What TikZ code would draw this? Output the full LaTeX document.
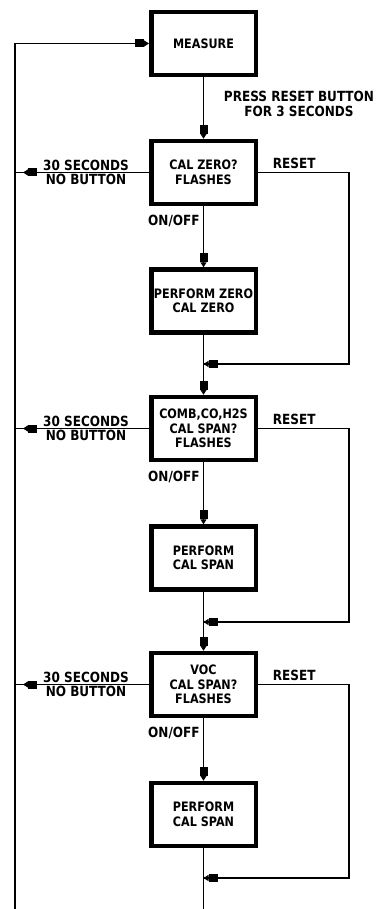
\documentclass[tikz,border=0pt]{standalone}
\usepackage{fontspec}
\setmainfont{DejaVu Sans}[FakeStretch=0.86]
\usetikzlibrary{arrows.meta}
\tikzset{
  stepbox/.style={draw, line width=4.5pt, minimum width=104.5pt, minimum height=63pt, inner sep=0pt, align=center},
  lbl/.style={align=center, inner sep=0pt, font=\fontsize{14}{14.5}\selectfont\bfseries},
  flow/.style={-{Rectangle[length=9pt,width=8pt] Triangle[length=5pt,width=6pt]}}
}
\begin{document}
\begin{tikzpicture}[x=1pt, y=-1pt, line width=1.8pt, font=\fontsize{13}{14.5}\selectfont\bfseries]
        \useasboundingbox (0,0) rectangle (380,909);
        \path (203.5,43.5) node[stepbox] (meas) {MEASURE}
              (203.5,172.5) node[stepbox] (cz) {CAL ZERO?\\FLASHES}
              (203.5,301) node[stepbox] (pz) {PERFORM ZERO\\CAL ZERO}
              (203.5,428.5) node[stepbox] (cs1) {COMB,CO,H2S\\CAL SPAN?\\FLASHES}
              (203.5,558) node[stepbox] (ps1) {PERFORM\\CAL SPAN}
              (203.5,684.5) node[stepbox] (cs2) {VOC\\CAL SPAN?\\FLASHES}
              (203.5,814.5) node[stepbox] (ps2) {PERFORM\\CAL SPAN};
        \coordinate (rt) at (15,43.5);
        \coordinate (rb) at (15,909);
        \coordinate (r1) at (349,364);
        \coordinate (r2) at (349,622);
        \coordinate (r3) at (349,878);
        \draw (rb) -- (rt);
        \draw[flow] (rt) -- (meas.west);
        \draw[flow] (meas.south) -- (cz.north);
        \node[lbl] (press) at (299,104) {PRESS RESET BUTTON\\FOR 3 SECONDS};
        \draw[flow] (cz.south) -- (pz.north);
        \draw[flow] (pz.south) -- (cs1.north);
        \draw[flow] (cs1.south) -- (ps1.north);
        \draw[flow] (ps1.south) -- (cs2.north);
        \draw[flow] (cs2.south) -- (ps2.north);
        \draw (ps2.south) -- (ps2.south |- rb);
        \foreach \q/\r in {cz/r1, cs1/r2, cs2/r3} {
            \draw (\q.west) -- (\q.west -| rt);
            \draw[flow] (\q.west) -- ([xshift=8pt]\q.west -| rt);
            \node[lbl] at ([xshift=86pt]\q.west -| 0,0) {30 SECONDS\\NO BUTTON};
            \node[lbl, anchor=base west] at ([xshift=14pt, yshift=4pt]\q.east) {RESET};
            \node[lbl, anchor=east] at ([xshift=-3pt, yshift=-15pt]\q.south) {ON/OFF};
            \draw (\q.east) -| (\r) -- (\q.south |- \r);
            \draw[flow] (\r) -- (\q.south |- \r);
        }
    \end{tikzpicture}
\end{document}
